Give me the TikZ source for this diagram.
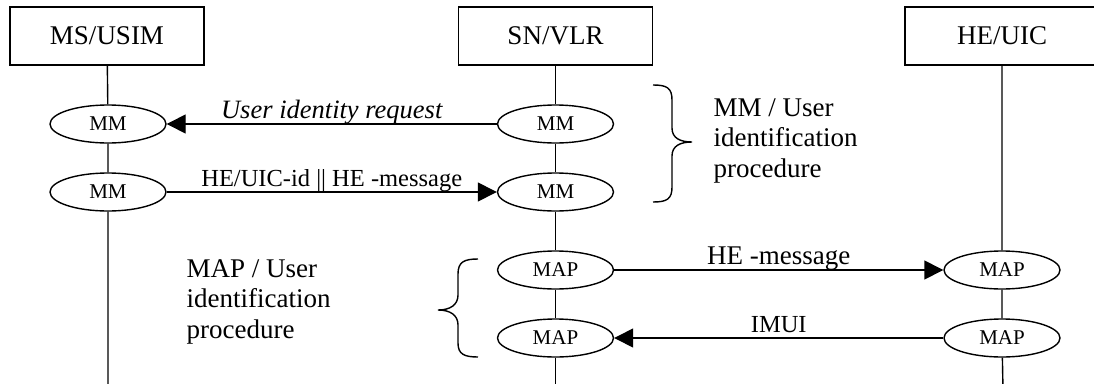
\documentclass[tikz,border=0pt]{standalone}
\usepackage{fontspec}
\setmainfont{Liberation Serif}
\usetikzlibrary{arrows.meta,shapes.geometric}
\begin{document}
\begin{tikzpicture}[x=1pt,y=-1pt, line width=1.4pt,
 entity/.style={draw, minimum width=194pt, minimum height=58pt, inner sep=0pt, font=\fontsize{27}{30}\selectfont},
 proto/.style={draw, ellipse, fill=white, minimum width=116pt, minimum height=38pt, inner sep=0pt, font=\fontsize{21}{24}\selectfont},
 msg/.style={-{Triangle[length=19pt,width=19pt]}},
 lbl/.style={anchor=base, inner sep=0pt, yshift=5.5pt},
 side/.style={anchor=base west, align=left, inner sep=0pt, font=\fontsize{27}{30.5}\selectfont}]
\useasboundingbox (0,0) rectangle (1094,383);
% entities
\node[entity] (ms) at (107,36) {MS/USIM};
\node[entity] (sn) at (555.5,36) {SN/VLR};
\node[entity] (he) at (1002,36) {HE/UIC};
% bottoms of lifelines
\coordinate (msb) at (108,390);
\coordinate (snb) at (555.5,390);
\coordinate (heb) at (1003,390);
% protocol ellipses
\node[proto] (m1) at (108,124) {MM};
\node[proto] (m2) at (108,192) {MM};
\node[proto] (s1) at (555.5,124) {MM};
\node[proto] (s2) at (555.5,192) {MM};
\node[proto] (s3) at (555.5,270) {MAP};
\node[proto] (s4) at (555.5,338) {MAP};
\node[proto] (h1) at (1002,270) {MAP};
\node[proto] (h2) at (1002,338) {MAP};
% lifelines
\draw (ms) -- (m1) (m1) -- (m2) (m2) -- (msb);
\draw (sn) -- (s1) (s1) -- (s2) (s2) -- (s3) (s3) -- (s4) (s4) -- (snb);
\draw (he) -- (h1) (h1) -- (h2) (h2) -- (heb);
% messages
\draw[msg] (s1) -- node[lbl, font=\fontsize{26.5}{30}\selectfont\itshape] {User identity request} (m1);
\draw[msg] (m2) -- node[lbl, font=\fontsize{24.5}{28}\selectfont] {HE/UIC-id || HE -message} (s2);
\draw[msg] (s3) -- node[lbl, font=\fontsize{27}{30}\selectfont] {HE -message} (h1);
\draw[msg] (h2) -- node[lbl, font=\fontsize{24.5}{28}\selectfont] {IMUI} (s4);
% braces
\draw (653,85) .. controls (667,85) and (672,88) .. (672,100) -- (672,128)
  .. controls (672,138) and (680,142) .. (692,142)
  .. controls (680,142) and (672,146) .. (672,156) -- (672,187)
  .. controls (672,199) and (667,202) .. (653,202);
\draw (478,259) .. controls (464,259) and (458,262) .. (458,274) -- (458,295)
  .. controls (458,305) and (450,310) .. (438,310)
  .. controls (450,310) and (458,315) .. (458,325) -- (458,343)
  .. controls (458,354) and (464,357) .. (478,357);
\node[side] (mmproc) at (713,177) {MM / User\\identification\\procedure};
\node[side] (mapproc) at (186,338) {MAP / User\\identification\\procedure};
\end{tikzpicture}
\end{document}
